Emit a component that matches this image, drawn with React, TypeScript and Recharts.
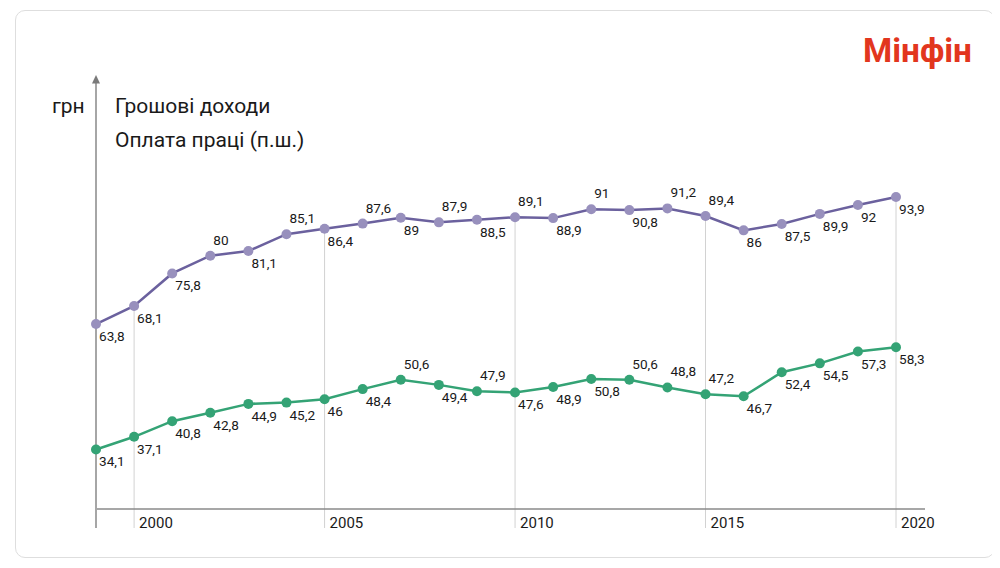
import { LineChart, Line, XAxis, YAxis, ReferenceLine } from "recharts";

// years on the x axis
const years = [
  1999, 2000, 2001, 2002, 2003, 2004, 2005, 2006, 2007, 2008, 2009, 2010,
  2011, 2012, 2013, 2014, 2015, 2016, 2017, 2018, 2019, 2020,
];

// Грошові доходи
const incomes = [
  63.8, 68.1, 75.8, 80, 81.1, 85.1, 86.4, 87.6, 89, 87.9, 88.5, 89.1, 88.9, 91,
  90.8, 91.2, 89.4, 86, 87.5, 89.9, 92, 93.9,
];

// Оплата праці (п.ш.)
const wages = [
  34.1, 37.1, 40.8, 42.8, 44.9, 45.2, 46, 48.4, 50.6, 49.4, 47.9, 47.6, 48.9,
  50.8, 50.6, 48.8, 47.2, 46.7, 52.4, 54.5, 57.3, 58.3,
];

// where each value label sits: "a" above the dot, "b" below
const incomeLabelSide = [
  "b", "b", "b", "a", "b", "a", "b", "a", "b", "a", "b", "a", "b", "a", "b",
  "a", "a", "b", "b", "b", "b", "b",
];
const wageLabelSide = [
  "b", "b", "b", "b", "b", "b", "b", "b", "a", "b", "a", "b", "b", "b", "a",
  "a", "a", "b", "b", "b", "b", "b",
];

const tickYears = [2000, 2005, 2010, 2015, 2020];

const Y_MIN = 15.5;
const Y_MAX = 122.8;
const BASE = 20;

const data = years.map((year, i) => ({
  year,
  incomes: incomes[i],
  wages: wages[i],
}));

const fmt = (v: number) => String(v).replace(".", ",");

const makeLabel = (sides: string[]) => (props: any) => {
  const { x, y, value, index } = props;
  const above = sides[index] === "a";
  return (
    <text
      key={`lbl-${index}`}
      x={x + 3}
      y={above ? y - 11 : y + 17}
      fontSize={13.6}
      fill="#1a1a1a"
      fontFamily="Roboto"
    >
      {fmt(value)}
    </text>
  );
};

const YearTick = (props: any) => {
  const { x, y, payload } = props;
  return (
    <text x={x + 5} y={y - 0.5} fontSize={15} fill="#1a1a1a" fontFamily="Roboto">
      {payload.value}
    </text>
  );
};

const AxisArrow = (props: any) => {
  const { x1, y1, y2 } = props;
  const top = Math.min(y1, y2);
  const bottom = Math.max(y1, y2);
  return (
    <g>
      <line x1={x1} x2={x1} y1={top + 7} y2={bottom} stroke="#a6a6a6" strokeWidth={2} />
      <polygon
        points={`${x1 - 4},${top + 8.5} ${x1 + 4},${top + 8.5} ${x1},${top}`}
        fill="#7a7a7a"
      />
    </g>
  );
};

export default function App() {
  return (
    <div style={{ position: "relative", width: 1000, height: 568, margin: -8 }}>
      <div
        style={{
          position: "absolute",
          left: 15,
          top: 10,
          width: 978,
          height: 546,
          border: "1px solid #dedede",
          borderRadius: 10,
          background: "#fff",
        }}
      />
      <div style={{ position: "absolute", left: 0, top: 0 }}>
        <LineChart
          width={1000}
          height={568}
          data={data}
          margin={{ top: 75, right: 75, bottom: 10, left: 96 }}
          style={{ fontFamily: "Roboto" }}
        >
          <XAxis
            dataKey="year"
            type="number"
            domain={[1999, 2020]}
            ticks={tickYears}
            padding={{ left: 0, right: 29 }}
            axisLine={false}
            tickLine={false}
            tickSize={0}
            tickMargin={0}
            height={30}
            tick={<YearTick />}
            interval={0}
          />
          <YAxis hide type="number" domain={[Y_MIN, Y_MAX]} allowDataOverflow />
          {tickYears.map((yr) => (
            <ReferenceLine
              key={yr}
              segment={[
                { x: yr, y: incomes[years.indexOf(yr)] },
                { x: yr, y: Y_MIN },
              ]}
              stroke="#d2d2d2"
              strokeWidth={1}
            />
          ))}
          <ReferenceLine y={BASE} stroke="#8a8a8a" strokeWidth={1.5} />
          <ReferenceLine x={1999} shape={<AxisArrow />} />
          <Line
            dataKey="incomes"
            stroke="#6b619e"
            strokeWidth={2.5}
            dot={{ r: 5, fill: "#9890bd", stroke: "none" }}
            activeDot={false}
            label={makeLabel(incomeLabelSide)}
            isAnimationActive={false}
          />
          <Line
            dataKey="wages"
            stroke="#34a375"
            strokeWidth={2.5}
            dot={{ r: 5, fill: "#34a375", stroke: "none" }}
            activeDot={false}
            label={makeLabel(wageLabelSide)}
            isAnimationActive={false}
          />
        </LineChart>
      </div>
      <svg
        width={1000}
        height={568}
        style={{ position: "absolute", left: 0, top: 0, pointerEvents: "none" }}
      >
        <text x={52} y={112.5} fontSize={21} fontFamily="Roboto" fill="#1a1a1a">
          грн
        </text>
        <text x={115} y={112.5} fontSize={21} fontFamily="Roboto" fill="#1a1a1a">
          Грошові доходи
        </text>
        <text x={115} y={146.5} fontSize={21} fontFamily="Roboto" fill="#1a1a1a">
          Оплата праці (п.ш.)
        </text>
        <text
          x={863}
          y={61.5}
          fontSize={34}
          fontWeight={700}
          fontFamily="Roboto"
          fill="#e2361e"
          textLength={109}
          lengthAdjust="spacingAndGlyphs"
        >
          Мінфін
        </text>
      </svg>
    </div>
  );
}
